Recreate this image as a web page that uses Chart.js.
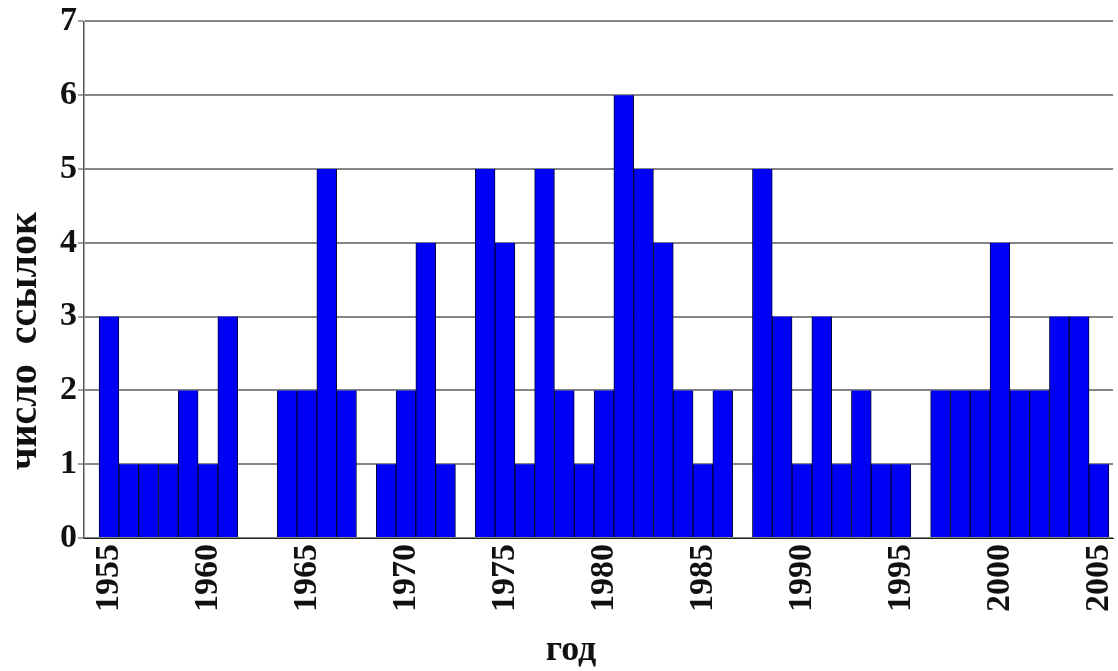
<!DOCTYPE html>
<html>
<head>
<meta charset="utf-8">
<script src="https://cdn.jsdelivr.net/npm/chart.js@4/dist/chart.umd.min.js"></script>
<style>
  html, body { margin: 0; padding: 0; background: #ffffff; }
  #wrap { width: 1118px; height: 671px; }
</style>
</head>
<body>
<div id="wrap"><canvas id="c" width="1118" height="671"></canvas></div>
<script>
// ---- data ----
const years = [1955,1956,1957,1958,1959,1960,1961,1962,1963,1964,1965,1966,1967,1968,1969,1970,
  1971,1972,1973,1974,1975,1976,1977,1978,1979,1980,1981,1982,1983,1984,1985,1986,1987,1988,1989,
  1990,1991,1992,1993,1994,1995,1996,1997,1998,1999,2000,2001,2002,2003,2004,2005];
const counts = [3,1,1,1,2,1,3,0,0,2,2,5,2,0,1,2,
  4,1,0,5,4,1,5,2,1,2,6,5,4,2,1,2,0,5,3,
  1,3,1,2,1,1,0,2,2,2,4,2,2,3,3,1];
const xTicks = [1955,1960,1965,1970,1975,1980,1985,1990,1995,2000,2005];
const yTicks = [0,1,2,3,4,5,6,7];
const xTitle = 'год';
const yTitle = 'число  ссылок';

const points = years.map((y, i) => ({ x: y, y: counts[i] }));
const serif = "'Liberation Serif', 'DejaVu Serif', serif";

const titlesPlugin = {
  id: 'axisTitles',
  afterDraw(chart) {
    const ctx = chart.ctx;
    ctx.save();
    ctx.fillStyle = '#111';
    ctx.font = 'bold 40px ' + serif;
    ctx.textAlign = 'center';
    ctx.textBaseline = 'alphabetic';
    ctx.translate(36, 341);
    ctx.rotate(-Math.PI / 2);
    ctx.fillText(yTitle, 0, 0);
    ctx.restore();
    ctx.save();
    ctx.fillStyle = '#111';
    ctx.font = 'bold 36px ' + serif;
    ctx.textAlign = 'center';
    ctx.textBaseline = 'alphabetic';
    ctx.fillText(xTitle, 571, 660);
    ctx.restore();
  }
};

new Chart(document.getElementById('c'), {
  type: 'bar',
  data: {
    datasets: [{
      data: points,
      backgroundColor: '#0000f5',
      borderColor: '#000038',
      borderWidth: { top: 0, left: 1, right: 1, bottom: 0 },
      borderSkipped: false,
      barPercentage: 1.0,
      categoryPercentage: 1.0
    }]
  },
  options: {
    responsive: false,
    animation: false,
    devicePixelRatio: 1,
    layout: { padding: { top: 0, right: 5, bottom: 0, left: 0 } },
    plugins: { legend: { display: false }, tooltip: { enabled: false } },
    scales: {
      x: {
        type: 'linear',
        min: 1953.74,
        max: 2005.71,
        offset: false,
        afterBuildTicks(scale) { scale.ticks = xTicks.map(v => ({ value: v })); },
        afterFit(scale) { scale.height = 133; scale.paddingLeft = 0; scale.paddingRight = 0; },
        grid: { display: false, drawTicks: false },
        border: { display: true, color: '#222', width: 1 },
        ticks: {
          minRotation: 90, maxRotation: 90, autoSkip: false, padding: 6,
          color: '#111',
          font: { family: serif, size: 34, weight: 'bold' },
          callback: v => String(v)
        }
      },
      y: {
        min: 0, max: 7,
        afterBuildTicks(scale) { scale.ticks = yTicks.map(v => ({ value: v })); },
        afterFit(scale) { scale.width = 84; },
        grid: { color: '#858585', lineWidth: 2, tickLength: 6, tickColor: '#444', tickWidth: 1 },
        border: { display: true, color: '#555', width: 1.5 },
        ticks: {
          padding: 1, color: '#111',
          font: { family: serif, size: 34, weight: 'bold' },
          callback: v => String(v)
        }
      }
    }
  },
  plugins: [titlesPlugin]
});
</script>
</body>
</html>
